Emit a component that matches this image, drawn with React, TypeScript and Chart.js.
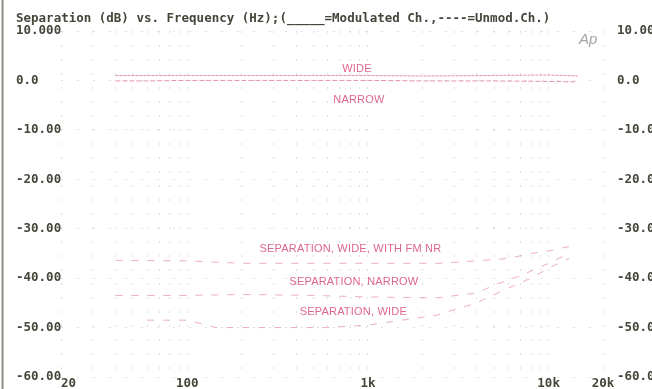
import React, { useEffect, useRef } from 'react';
import { Chart, registerables } from 'chart.js';

Chart.register(...registerables);

const TITLE = 'Separation (dB) vs. Frequency (Hz);(_____=Modulated Ch.,----=Unmod.Ch.)';

// Modulated channel responses (solid in original)
const modFreqs = [40, 60, 100, 200, 500, 1000, 2000, 5000, 10000, 14500];
const wideResp = [1.0, 1.0, 1.0, 1.0, 1.0, 1.0, 0.9, 1.0, 1.1, 0.9];
const narrowResp = [-0.1, -0.1, 0.0, 0.0, 0.0, 0.0, -0.1, -0.1, -0.2, -0.3];

// Unmodulated channel separation (dashed in original)
const sepFmFreqs = [40, 100, 200, 500, 1000, 2500, 4000, 6000, 8000, 10000, 13000];
const sepFmNr = [-36.4, -36.5, -37, -37, -37, -37, -36.5, -36, -35, -34.5, -33.6];
const sepNarrowFreqs = [40, 100, 200, 500, 1000, 2400, 4000, 5000, 7000, 10000, 13000];
const sepNarrow = [-43.5, -43.5, -43.3, -43.5, -43.8, -44, -43, -41.4, -39.5, -37, -35];
const sepWideFreqs = [60, 100, 144, 300, 600, 1000, 2400, 4000, 6000, 8000, 10000, 13000];
const sepWide = [-48.5, -48.5, -50, -50, -50, -49.5, -47.5, -45, -42, -40, -38, -36];

// Axis ticks
const xGridFreqs = [20, 30, 40, 50, 60, 70, 80, 90, 100, 200, 300, 400, 500, 600, 700, 800, 900,
  1000, 2000, 3000, 4000, 5000, 6000, 7000, 8000, 9000, 10000, 20000];
const xTickValues = [20, 100, 1000, 10000, 20000];
const xTickLabels = ['  20', '100', '1k', '10k', '20k'];
const yTickValues = [-60, -50, -40, -30, -20, -10, 0, 10];
const yTickLabels = ['-60.00', '-50.00', '-40.00', '-30.00', '-20.00', '-10.00', '0.0', '10.000'];

// Curve annotations
const annTexts = ['WIDE', 'NARROW', 'SEPARATION, WIDE, WITH FM NR', 'SEPARATION, NARROW', 'SEPARATION, WIDE'];
const annFreqs = [869, 891, 800, 836, 830];
const annDb = [2.3, -3.9, -34.0, -40.8, -46.9];

const TEXT = '#45453a';
const PINK = '#df6690';
const MONO = '"DejaVu Sans Mono", "Liberation Mono", monospace';

const toPts = (fs: number[], vs: number[]) => fs.map((f, i) => ({ x: f, y: vs[i] }));

const overlay = {
  id: 'overlay',
  beforeDraw(chart: any) {
    const ctx = chart.ctx;
    ctx.save();
    ctx.strokeStyle = '#8e8e86';
    ctx.lineWidth = 2;
    ctx.beginPath();
    ctx.moveTo(2.5, 0);
    ctx.lineTo(2.5, chart.height);
    ctx.stroke();
    ctx.restore();
  },
  afterDatasetsDraw(chart: any) {
    const ctx = chart.ctx;
    const xs = chart.scales.x;
    const ys = chart.scales.y;
    ctx.save();
    ctx.fillStyle = TEXT;
    ctx.font = `bold 12.5px ${MONO}`;
    ctx.textAlign = 'left';
    ctx.textBaseline = 'middle';
    ctx.fillText(TITLE, 16, 19);

    ctx.font = 'italic 15px "Liberation Sans", sans-serif';
    ctx.fillStyle = '#a4a4a4';
    ctx.fillText('Ap', 579, 40);

    ctx.fillStyle = PINK;
    ctx.font = '11px "Liberation Sans", sans-serif';
    (ctx as any).letterSpacing = '0.2px';
    ctx.textAlign = 'center';
    annTexts.forEach((t, i) => {
      ctx.fillText(t, xs.getPixelForValue(annFreqs[i]), ys.getPixelForValue(annDb[i]));
    });
    ctx.restore();
  },
};

export default function App() {
  const ref = useRef<HTMLCanvasElement | null>(null);
  useEffect(() => {
    if (!ref.current) return;
    const gridColor = 'rgba(140,140,140,0.28)';
    const tickFont = { family: MONO, size: 12.5, weight: 'bold' as const, lineHeight: 1 };
    const chart = new Chart(ref.current, {
      type: 'line',
      data: {
        datasets: [
          { label: 'Wide', data: toPts(modFreqs, wideResp), borderColor: 'rgba(222,120,155,0.8)', borderWidth: 1, borderDash: [3, 1], pointRadius: 0 },
          { label: 'Narrow', data: toPts(modFreqs, narrowResp), borderColor: 'rgba(222,120,155,0.8)', borderWidth: 1, borderDash: [5, 2], pointRadius: 0 },
          { label: 'Sep wide FM NR', data: toPts(sepFmFreqs, sepFmNr), borderColor: 'rgba(222,120,155,0.6)', borderWidth: 1, borderDash: [7, 9], pointRadius: 0 },
          { label: 'Sep narrow', data: toPts(sepNarrowFreqs, sepNarrow), borderColor: 'rgba(222,120,155,0.6)', borderWidth: 1, borderDash: [7, 9], pointRadius: 0 },
          { label: 'Sep wide', data: toPts(sepWideFreqs, sepWide), borderColor: 'rgba(222,120,155,0.6)', borderWidth: 1, borderDash: [7, 9], pointRadius: 0 },
        ],
      },
      options: {
        animation: false,
        responsive: false,
        devicePixelRatio: 1,
        layout: { padding: { left: 16, top: 31, right: 0, bottom: 0 } },
        plugins: { legend: { display: false }, tooltip: { enabled: false }, title: { display: false } },
        scales: {
          x: {
            type: 'logarithmic',
            position: 'bottom',
            min: 20,
            max: 20000,
            afterBuildTicks: (s: any) => { s.ticks = xGridFreqs.map((v) => ({ value: v })); },
            afterFit: (s: any) => { s.height = 12; },
            ticks: {
              autoSkip: false,
              maxRotation: 0,
              padding: 0,
              color: TEXT,
              font: tickFont,
              callback: (v: any) => {
                const i = xTickValues.indexOf(Number(v));
                return i >= 0 ? xTickLabels[i] : '';
              },
            },
            grid: { color: gridColor, drawTicks: false },
            border: { display: false, dash: [2, 12] },
          },
          y: {
            position: 'left',
            min: -60,
            max: 10,
            afterBuildTicks: (s: any) => { s.ticks = yTickValues.map((v) => ({ value: v })); },
            afterFit: (s: any) => { s.width = 45; },
            ticks: {
              crossAlign: 'far',
              padding: 0,
              color: TEXT,
              font: tickFont,
              callback: (v: any) => {
                const i = yTickValues.indexOf(Number(v));
                return i >= 0 ? yTickLabels[i] : '';
              },
            },
            grid: { color: gridColor, drawTicks: false },
            border: { display: false, dash: [2, 14] },
          },
          y2: {
            position: 'right',
            min: -60,
            max: 10,
            afterBuildTicks: (s: any) => { s.ticks = yTickValues.map((v) => ({ value: v })); },
            afterFit: (s: any) => { s.width = 49; },
            ticks: {
              crossAlign: 'near',
              padding: 0,
              color: TEXT,
              font: tickFont,
              callback: (v: any) => {
                const i = yTickValues.indexOf(Number(v));
                return i >= 0 ? yTickLabels[i] : '';
              },
            },
            grid: { display: true, drawOnChartArea: false, drawTicks: true, tickLength: 14, tickColor: 'rgba(0,0,0,0)', color: 'rgba(0,0,0,0)' },
            border: { display: false },
          },
        },
      } as any,
      plugins: [overlay],
    });
    return () => chart.destroy();
  }, []);

  return (
    <div style={{ position: 'fixed', left: 0, top: 0, width: 652, height: 389, background: '#fff' }}>
      <canvas ref={ref} width={652} height={389} style={{ display: 'block', width: 652, height: 389 }} />
    </div>
  );
}
